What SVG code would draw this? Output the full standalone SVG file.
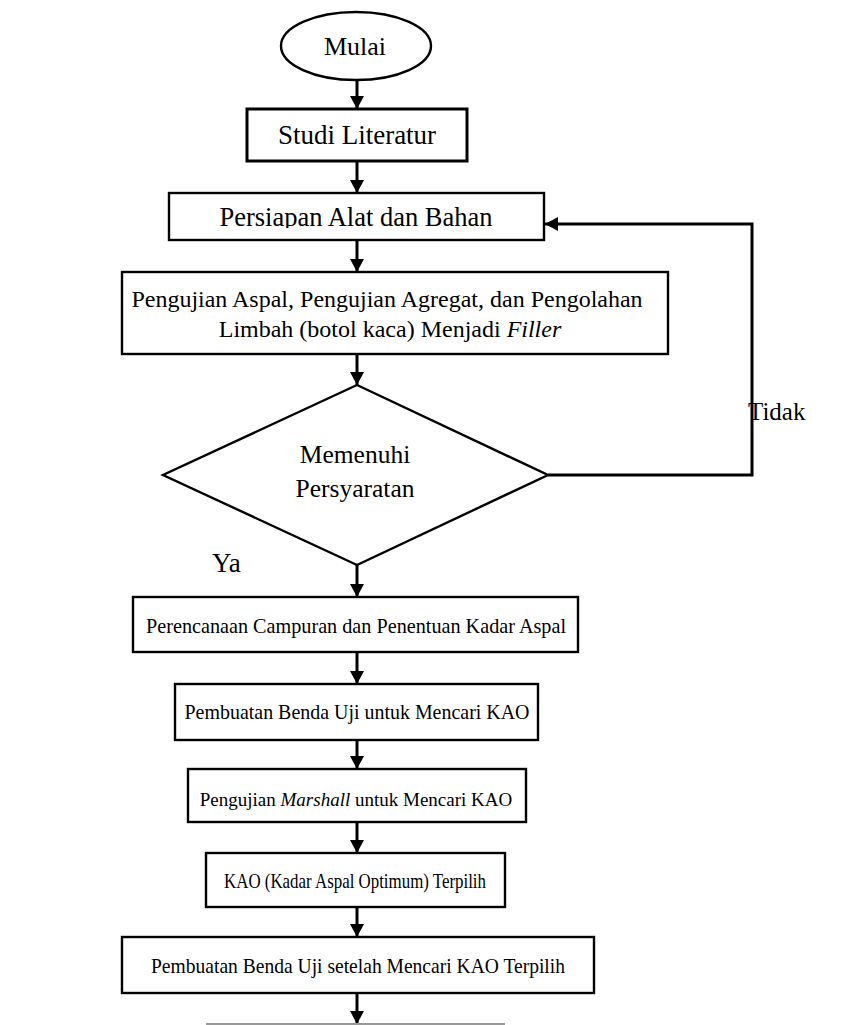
<svg xmlns="http://www.w3.org/2000/svg" width="863" height="1025" viewBox="0 0 863 1025">
<defs>
<marker id="ah" markerUnits="userSpaceOnUse" markerWidth="14" markerHeight="14" refX="13" refY="7" orient="auto">
<path d="M0,0 L13,7 L0,14 z" fill="#000"/>
</marker>
<clipPath id="clipP"><rect x="169" y="193" width="375" height="35"/></clipPath>
</defs>
<style>
.box{fill:#fff;stroke:#000;stroke-width:2.4}
.t{font-family:"Liberation Serif","Times New Roman",serif;font-size:20px;fill:#000;text-anchor:middle}
.lo{font-size:21px}
.lbl{font-family:"Liberation Serif","Times New Roman",serif;font-size:25px;fill:#000}
.c{fill:none;stroke:#000;stroke-width:3}
</style>
<rect width="863" height="1025" fill="#fff"/>
<g id="connectors">
<path class="c" d="M357,80 V109" marker-end="url(#ah)"/>
<path class="c" d="M357,161 V193" marker-end="url(#ah)"/>
<path class="c" d="M357,240 V272" marker-end="url(#ah)"/>
<path class="c" d="M357,354 V385" marker-end="url(#ah)"/>
<path class="c" d="M357,565 V597" marker-end="url(#ah)"/>
<path class="c" d="M357,652 V684" marker-end="url(#ah)"/>
<path class="c" d="M357,740 V769" marker-end="url(#ah)"/>
<path class="c" d="M357,822 V853" marker-end="url(#ah)"/>
<path class="c" d="M357,907 V937" marker-end="url(#ah)"/>
<path class="c" d="M357,993 V1024" marker-end="url(#ah)"/>
<path class="c" d="M548,475 H752 V224 H545" marker-end="url(#ah)"/>
</g>
<g id="start">
<ellipse cx="356" cy="46" rx="75" ry="34" fill="#fff" stroke="#000" stroke-width="2.4"/>
<text class="t" x="355" y="55" style="font-size:26px">Mulai</text>
</g>
<g id="studi">
<rect class="box" x="247" y="109" width="220" height="52" style="stroke-width:3"/>
<text class="t" x="357" y="144" style="font-size:27px">Studi Literatur</text>
</g>
<g id="persiapan">
<rect class="box" x="169" y="193" width="375" height="47"/>
<text class="t" x="356" y="226" style="font-size:26.5px" clip-path="url(#clipP)">Persiapan Alat dan Bahan</text>
</g>
<g id="pengujian">
<rect class="box" x="122" y="272" width="546" height="82"/>
<text class="t" x="387" y="307" style="font-size:24px">Pengujian Aspal, Pengujian Agregat, dan Pengolahan</text>
<text class="t" x="390" y="337" style="font-size:24px">Limbah (botol kaca) Menjadi <tspan font-style="italic">Filler</tspan></text>
</g>
<g id="decision">
<polygon points="357,385 548,475 357,565 163,475" fill="#fff" stroke="#000" stroke-width="2.4"/>
<text class="t" x="355" y="463" style="font-size:25.5px">Memenuhi</text>
<text class="t" x="355" y="497" style="font-size:25.5px">Persyaratan</text>
</g>
<g id="labels">
<text class="lbl" x="748" y="420">Tidak</text>
<text class="lbl" x="212" y="572" style="font-size:27px">Ya</text>
</g>
<g id="perencanaan">
<rect class="box" x="133" y="597" width="445" height="55"/>
<text class="t lo" x="356" y="633" textLength="420" lengthAdjust="spacingAndGlyphs">Perencanaan Campuran dan Penentuan Kadar Aspal</text>
</g>
<g id="pembuatan">
<rect class="box" x="175" y="684" width="363" height="56"/>
<text class="t lo" x="357" y="719" textLength="345" lengthAdjust="spacingAndGlyphs">Pembuatan Benda Uji untuk Mencari KAO</text>
</g>
<g id="marshall">
<rect class="box" x="188" y="769" width="338" height="53"/>
<text class="t" x="356" y="806" style="font-size:19px">Pengujian <tspan font-style="italic">Marshall</tspan> untuk Mencari KAO</text>
</g>
<g id="kao">
<rect class="box" x="206" y="853" width="299" height="54"/>
<text class="t lo" x="355" y="888" textLength="262" lengthAdjust="spacingAndGlyphs">KAO (Kadar Aspal Optimum) Terpilih</text>
</g>
<g id="pembuatan2">
<rect class="box" x="122" y="937" width="472" height="56"/>
<text class="t lo" x="358" y="973" textLength="414" lengthAdjust="spacingAndGlyphs">Pembuatan Benda Uji setelah Mencari KAO Terpilih</text>
</g>
<g id="next">
<line x1="206" y1="1024" x2="505" y2="1024" stroke="#999" stroke-width="2"/>
</g>
</svg>
